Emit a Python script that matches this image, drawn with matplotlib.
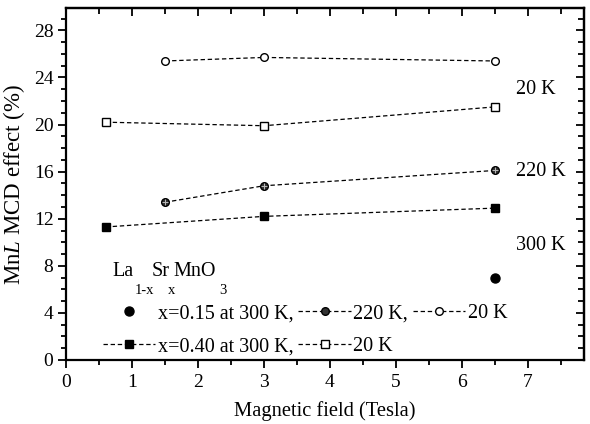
import numpy as np
import matplotlib.pyplot as plt
from matplotlib.ticker import MultipleLocator

plt.rcParams['font.family'] = ['Liberation Serif', 'DejaVu Serif']
plt.rcParams['mathtext.fontset'] = 'custom'
plt.rcParams['mathtext.rm'] = 'Liberation Serif'
plt.rcParams['mathtext.it'] = 'Liberation Serif:italic'

# x=0.15 series
field_015_20K = [1.5, 3.0, 6.5]
mcd_015_20K = [25.4, 25.7, 25.4]
field_015_220K = [1.5, 3.0, 6.5]
mcd_015_220K = [13.4, 14.8, 16.1]
field_015_300K = [6.5]
mcd_015_300K = [7.0]

# x=0.40 series
field_040_20K = [0.6, 3.0, 6.5]
mcd_040_20K = [20.2, 19.9, 21.5]
field_040_300K = [0.6, 3.0, 6.5]
mcd_040_300K = [11.3, 12.2, 12.9]

W, H = 590, 424
fig = plt.figure(figsize=(W / 100, H / 100), dpi=100)
ax = fig.add_axes([66 / W, 1 - 360 / H, (584 - 66) / W, (360 - 8) / H])

dash = (3.5, 2.2)
ms = 5.5
lw = 0.9

h1, = ax.plot(field_015_300K, mcd_015_300K, 'o', color='k', ms=6.5, ls='none',
              label='x=0.15 at 300 K,')
h2, = ax.plot(field_040_300K, mcd_040_300K, 's', color='k', ms=ms, ls='--',
              dashes=dash, lw=lw, label='x=0.40 at 300 K,')
h3, = ax.plot(field_015_220K, mcd_015_220K, 'o', color='k', mfc='#333333', ms=ms,
              ls='--', dashes=dash, lw=lw, label='220 K,')
ax.plot(field_015_220K, mcd_015_220K, '+', color='#bbbbbb', ms=4, mew=0.7, ls='none')
h4, = ax.plot(field_040_20K, mcd_040_20K, 's', color='k', mfc='white', ms=ms,
              ls='--', dashes=dash, lw=lw, label='20 K')
h5, = ax.plot(field_015_20K, mcd_015_20K, 'o', color='k', mfc='white', ms=ms,
              ls='--', dashes=dash, lw=lw, label='20 K')

ax.set_xlim(0, 7.85)
ax.set_ylim(0, 29.9)

fs = 14.5
ax.set_xlabel('Magnetic field (Tesla)', fontsize=14.8, labelpad=7)
ax.set_ylabel(r'Mn$\mathit{L}$ MCD effect (%)', fontsize=16.5, labelpad=5)

ax.xaxis.set_major_locator(MultipleLocator(1))
ax.xaxis.set_minor_locator(MultipleLocator(0.5))
ax.yaxis.set_major_locator(MultipleLocator(4))
ax.yaxis.set_minor_locator(MultipleLocator(1))
ax.tick_params(which='both', direction='out', labelsize=14, width=1.3)
ax.tick_params(which='major', length=6)
ax.tick_params(which='minor', length=3.5)
ax.tick_params(axis='x', pad=4)
ax.tick_params(axis='y', pad=3)

for s in ax.spines.values():
    s.set_linewidth(1.6)

# inward ticks on top and right
top = ax.secondary_xaxis('top')
top.xaxis.set_major_locator(MultipleLocator(1))
top.xaxis.set_minor_locator(MultipleLocator(0.5))
top.tick_params(which='both', direction='in', labeltop=False, width=1.3)
top.tick_params(which='major', length=6)
top.tick_params(which='minor', length=4)
right = ax.secondary_yaxis('right')
right.yaxis.set_major_locator(MultipleLocator(4))
right.yaxis.set_minor_locator(MultipleLocator(1))
right.tick_params(which='both', direction='in', labelright=False, width=1.3)
right.tick_params(which='major', length=6)
right.tick_params(which='minor', length=4)
for sa in (top, right):
    for s in sa.spines.values():
        s.set_linewidth(1.6)

# temperature labels on the right
def px(x, y):
    return x / W, 1 - y / H

for label, (x, y) in [('20 K', (516, 90)), ('220 K', (516, 172)), ('300 K', (516, 245))]:
    fig.text(*px(x, y), label, fontsize=fs, va='center', ha='left')

# compound formula with subscripts
fig.text(*px(112, 271), 'La', fontsize=fs, va='center')
fig.text(*px(152, 271), 'Sr', fontsize=fs, va='center')
fig.text(*px(173, 271), 'MnO', fontsize=fs, va='center')
fig.text(*px(135, 291), '1-x', fontsize=10.5, va='center')
fig.text(*px(168, 291), 'x', fontsize=10.5, va='center')
fig.text(*px(219, 291), '3', fontsize=10.5, va='center')

leg = ax.legend(handles=[h1, h2, h3, h4, h5], ncol=3, frameon=False,
                fontsize=fs, loc='upper left',
                bbox_to_anchor=px(103, 304), bbox_transform=fig.transFigure,
                borderpad=0, borderaxespad=0, handlelength=2.6,
                handletextpad=0.12, columnspacing=0.25, labelspacing=0.7)

fig.savefig('out.png', dpi=100)
